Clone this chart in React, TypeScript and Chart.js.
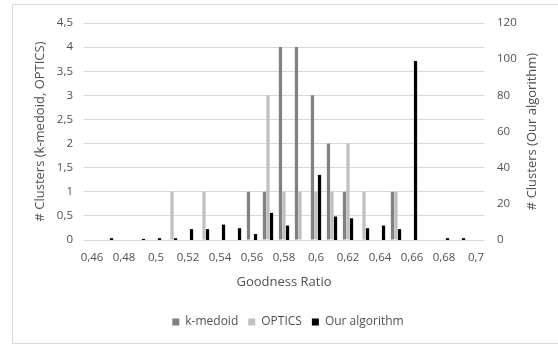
import React, { useEffect, useRef } from 'react';
import { Chart, registerables } from 'chart.js';

Chart.register(...registerables);

const categories = [0.46, 0.47, 0.48, 0.49, 0.5, 0.51, 0.52, 0.53, 0.54, 0.55, 0.56, 0.57, 0.58, 0.59, 0.6, 0.61, 0.62, 0.63, 0.64, 0.65, 0.66, 0.67, 0.68, 0.69, 0.7];
const kMedoid = [0, 0, 0, 0, 0, 0, 0, 0, 0, 0, 1, 1, 4, 4, 3, 2, 1, 0, 0, 1, 0, 0, 0, 0, 0];
const optics = [0, 0, 0, 0, 0, 1, 0, 1, 0, 0, 0, 3, 1, 1, 1, 1, 2, 1, 0, 1, 0, 0, 0, 0, 0];
const ourAlgorithm = [0, 1, 0, 0.6, 1, 1, 6, 6, 8.5, 6.5, 3.3, 15, 8, 0, 36, 13, 12, 6.5, 8, 6, 99, 0, 1, 1, 0];
const leftTicks = [0, 0.5, 1, 1.5, 2, 2.5, 3, 3.5, 4, 4.5];
const rightTicks = [0, 20, 40, 60, 80, 100, 120];

const FONT = "'Open Sans', sans-serif";
const TEXT = '#505050';
const fmt = (v: number) => String(v).replace('.', ',');

const rightTitlePlugin = {
  id: 'rightTitle',
  afterDraw(chart: any) {
    const { ctx, chartArea } = chart;
    ctx.save();
    ctx.translate(532, (chartArea.top + chartArea.bottom) / 2);
    ctx.rotate(-Math.PI / 2);
    ctx.font = `13px ${FONT}`;
    ctx.fillStyle = TEXT;
    ctx.textAlign = 'center';
    ctx.textBaseline = 'middle';
    ctx.fillText('# Clusters (Our algorithm)', 0, 0);
    ctx.restore();
  },
};

export default function App() {
  const ref = useRef<HTMLCanvasElement | null>(null);
  useEffect(() => {
    if (!ref.current) return;
    const chart = new Chart(ref.current, {
      type: 'bar',
      data: {
        labels: categories.map(fmt),
        datasets: [
          { label: 'k-medoid', data: kMedoid, backgroundColor: '#808080', yAxisID: 'y' },
          { label: 'OPTICS', data: optics, backgroundColor: '#bfbfbf', yAxisID: 'y' },
          { label: 'Our algorithm', data: ourAlgorithm, backgroundColor: '#000000', yAxisID: 'y1' },
        ],
      },
      options: {
        responsive: false,
        animation: false,
        devicePixelRatio: 1,
        datasets: { bar: { categoryPercentage: 0.66, barPercentage: 0.92 } },
        layout: { padding: { left: 28, right: 10, top: 23, bottom: 7 } },
        plugins: {
          tooltip: { enabled: false },
          legend: {
            position: 'bottom',
            labels: { boxWidth: 7, boxHeight: 7, font: { family: FONT, size: 12 }, color: TEXT, padding: 10 },
          },
        },
        scales: {
          x: {
            grid: { display: false, drawTicks: false },
            border: { display: false },
            ticks: {
              autoSkip: false,
              maxRotation: 0,
              padding: 11,
              font: { family: FONT, size: 11.5 },
              color: TEXT,
              callback: (_v: any, i: number) => (i % 2 === 0 ? fmt(categories[i]) : ''),
            },
            title: {
              display: true,
              text: 'Goodness Ratio',
              font: { family: FONT, size: 13 },
              color: TEXT,
              padding: { top: 4, bottom: 16 },
            },
            afterFit: (s: any) => { s.height = 66; },
          },
          y: {
            position: 'left',
            min: 0,
            max: 4.5,
            afterBuildTicks: (s: any) => { s.ticks = leftTicks.map((v) => ({ value: v })); },
            grid: { color: '#d9d9d9', drawTicks: false },
            border: { display: false },
            ticks: { padding: 11, font: { family: FONT, size: 11.5 }, color: TEXT, callback: (v: any) => fmt(Number(v)) },
            title: { display: true, text: '# Clusters (k-medoid, OPTICS)', font: { family: FONT, size: 13 }, color: TEXT },
            afterFit: (s: any) => { s.width = 56; },
          },
          y1: {
            position: 'right',
            min: 0,
            max: 120,
            afterBuildTicks: (s: any) => { s.ticks = rightTicks.map((v) => ({ value: v })); },
            grid: { display: false, drawOnChartArea: false, drawTicks: false },
            border: { display: false },
            ticks: { padding: 13, font: { family: FONT, size: 11.5 }, color: TEXT },
            afterFit: (s: any) => { s.width = 64; },
          },
        },
      },
      plugins: [rightTitlePlugin],
    } as any);
    return () => chart.destroy();
  }, []);

  return (
    <div style={{ position: 'fixed', left: 0, top: 0, width: 558, height: 345, background: '#fff', overflow: 'hidden' }}>
      <div style={{ position: 'absolute', left: 12, top: 4, width: 600, height: 338, border: '1px solid #d9d9d9' }} />
      <canvas ref={ref} width={558} height={345} style={{ position: 'absolute', left: 0, top: 0, width: 558, height: 345 }} />
    </div>
  );
}
